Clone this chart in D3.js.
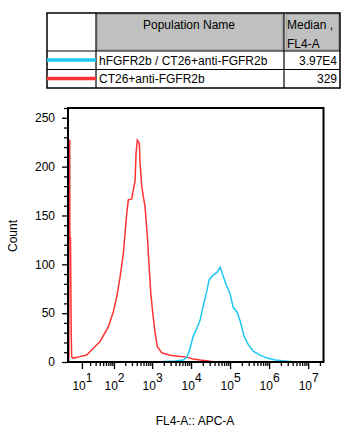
<!DOCTYPE html>
<html>
<head>
<meta charset="utf-8">
<script src="https://cdn.jsdelivr.net/npm/d3@7"></script>
<style>
  body { margin: 0; background: #fff; }
  svg { display: block; font-family: "Liberation Sans", Arial, sans-serif; }
</style>
</head>
<body>
<script>
// legend table
var popNames = ['hFGFR2b / CT26+anti-FGFR2b', 'CT26+anti-FGFR2b'];
var popMedians = ['3.97E4', '329'];
var popColors = ['#1ec6f0', '#ff3333'];

// histograms: FL4-A value, count
var redValues = [1.04, 1.40, 1.46, 1.80, 1.85, 2.15, 2.5, 2.75, 3.6, 8.3, 15.2, 25.3, 40.5, 70, 96, 119, 146, 178, 219, 241, 296, 326, 361, 384, 415, 467, 488, 539, 593, 657, 754, 849, 922, 1038, 1190, 1364, 1771, 2894, 4645, 7765, 11260, 17030, 25330, 41340, 2.47e7];
var redCounts = [0, 0, 227, 227, 127, 127, 30, 5, 4, 5.5, 7.2, 14, 21, 36, 51.5, 67, 87, 111, 152, 166, 167, 176, 185, 214, 227, 224, 204, 180, 169, 159, 128, 94, 71, 50, 30, 15.6, 9.4, 7, 6, 5, 3, 2, 1.3, 0, 0];

var blueValues = [1.04, 1912, 3890, 6240, 7900, 9430, 11260, 14250, 17030, 20340, 25780, 29010, 36730, 46510, 55520, 62490, 79130, 100200, 119600, 151500, 180900, 229100, 290200, 389700, 589600, 891000, 1.428e6, 2.578e6, 4.65e6, 2.47e7];
var blueCounts = [0, 0.5, 1, 2, 5, 14, 26, 35, 43, 57, 74, 84, 89, 92, 97, 91, 79, 70, 56, 51, 42, 26, 18, 11, 7, 4, 2, 1, 0, 0];

var yTicks = [0, 50, 100, 150, 200, 250];
var xDecades = [1, 2, 3, 4, 5, 6, 7];

var svg = d3.select('body').append('svg')
    .attr('width', 351)
    .attr('height', 436);

// ---- table ----
var table = svg.append('g');
table.append('rect').attr('x', 97).attr('y', 14).attr('width', 186).attr('height', 36)
    .attr('fill', '#c0c0c0').attr('stroke', '#8a8a8a');
table.append('rect').attr('x', 286).attr('y', 14).attr('width', 53).attr('height', 36)
    .attr('fill', '#c0c0c0').attr('stroke', '#8a8a8a');
table.append('rect').attr('x', 47).attr('y', 13).attr('width', 293).attr('height', 75)
    .attr('fill', 'none').attr('stroke', '#000').attr('stroke-width', 1.5);
[51, 69.5].forEach(function(yy) {
    table.append('line').attr('x1', 47).attr('x2', 340).attr('y1', yy).attr('y2', yy)
        .attr('stroke', '#000').attr('stroke-width', 1.2);
});
[96, 284].forEach(function(xx) {
    table.append('line').attr('x1', xx).attr('x2', xx).attr('y1', 13).attr('y2', 88)
        .attr('stroke', '#000').attr('stroke-width', 1.2);
});
table.append('text').attr('x', 189).attr('y', 29).attr('text-anchor', 'middle')
    .attr('font-size', 12).text('Population Name');
table.append('text').attr('x', 287).attr('y', 29).attr('font-size', 12).text('Median ,');
table.append('text').attr('x', 287).attr('y', 48).attr('font-size', 12).text('FL4-A');

popNames.forEach(function(name, i) {
    var cy = 60 + i * 18.5;
    table.append('line').attr('x1', 47).attr('x2', 96).attr('y1', cy).attr('y2', cy)
        .attr('stroke', popColors[i]).attr('stroke-width', 3.5);
    table.append('text').attr('x', 99).attr('y', cy + 4.5).attr('font-size', 12).text(name);
    table.append('text').attr('x', 337).attr('y', cy + 4.5).attr('text-anchor', 'end')
        .attr('font-size', 12).text(popMedians[i]);
});

// ---- histogram ----
var x = d3.scaleSymlog().constant(6).domain([1.04, 2.47e7]).range([68, 323.5]);
var y = d3.scaleLinear().domain([0, 260]).range([362, 108]);

var minorX = [];
for (var n = 1; n <= 6; n++) {
    for (var k = 2; k <= 9; k++) minorX.push(k * Math.pow(10, n));
}
minorX.push(2e7);
var minorY = d3.range(0, 261, 10).filter(function(v) { return v % 50 != 0; });

var xMinor = svg.append('g').attr('transform', 'translate(0,362)')
    .call(d3.axisBottom(x).tickValues(minorX).tickSize(4).tickSizeOuter(0).tickFormat(''));
var xMajor = svg.append('g').attr('transform', 'translate(0,362)')
    .call(d3.axisBottom(x).tickValues(xDecades.map(function(d) { return Math.pow(10, d); }))
        .tickSize(7).tickSizeOuter(0).tickFormat(''));
xMajor.selectAll('.tick text').each(function(d) {
    var t = d3.select(this).attr('dy', null).attr('y', 27.5)
        .attr('fill', '#000').attr('font-size', 12)
        .attr('font-family', '"Liberation Sans", Arial, sans-serif');
    t.append('tspan').text('10');
    t.append('tspan').attr('dy', -8).text(Math.round(Math.log10(d)));
});

var yMinor = svg.append('g').attr('transform', 'translate(68,0)')
    .call(d3.axisLeft(y).tickValues(minorY).tickSize(4).tickSizeOuter(0).tickFormat(''));
var yMajor = svg.append('g').attr('transform', 'translate(68,0)')
    .call(d3.axisLeft(y).tickValues(yTicks).tickSize(6).tickSizeOuter(0).tickPadding(7));
yMajor.selectAll('text').attr('font-size', 12).attr('fill', '#000')
    .attr('font-family', '"Liberation Sans", Arial, sans-serif');

svg.selectAll('.domain').remove();
svg.selectAll('.tick line').attr('stroke', '#000').attr('stroke-width', 1.3);

var line = d3.line()
    .x(function(d) { return x(d[0]); })
    .y(function(d) { return y(d[1]); });

svg.append('path')
    .datum(d3.zip(redValues, redCounts))
    .attr('d', line)
    .attr('fill', 'none')
    .attr('stroke', popColors[1])
    .attr('stroke-width', 1.5);
svg.append('path')
    .datum(d3.zip(blueValues, blueCounts))
    .attr('d', line)
    .attr('fill', 'none')
    .attr('stroke', popColors[0])
    .attr('stroke-width', 1.5);

svg.append('rect').attr('x', 68).attr('y', 108).attr('width', 255.5).attr('height', 254)
    .attr('fill', 'none').attr('stroke', '#000').attr('stroke-width', 2);

svg.append('text').attr('transform', 'translate(17,236) rotate(-90)')
    .attr('text-anchor', 'middle').attr('font-size', 12).text('Count');
svg.append('text').attr('x', 195).attr('y', 425)
    .attr('text-anchor', 'middle').attr('font-size', 12).text('FL4-A:: APC-A');
</script>
</body>
</html>
